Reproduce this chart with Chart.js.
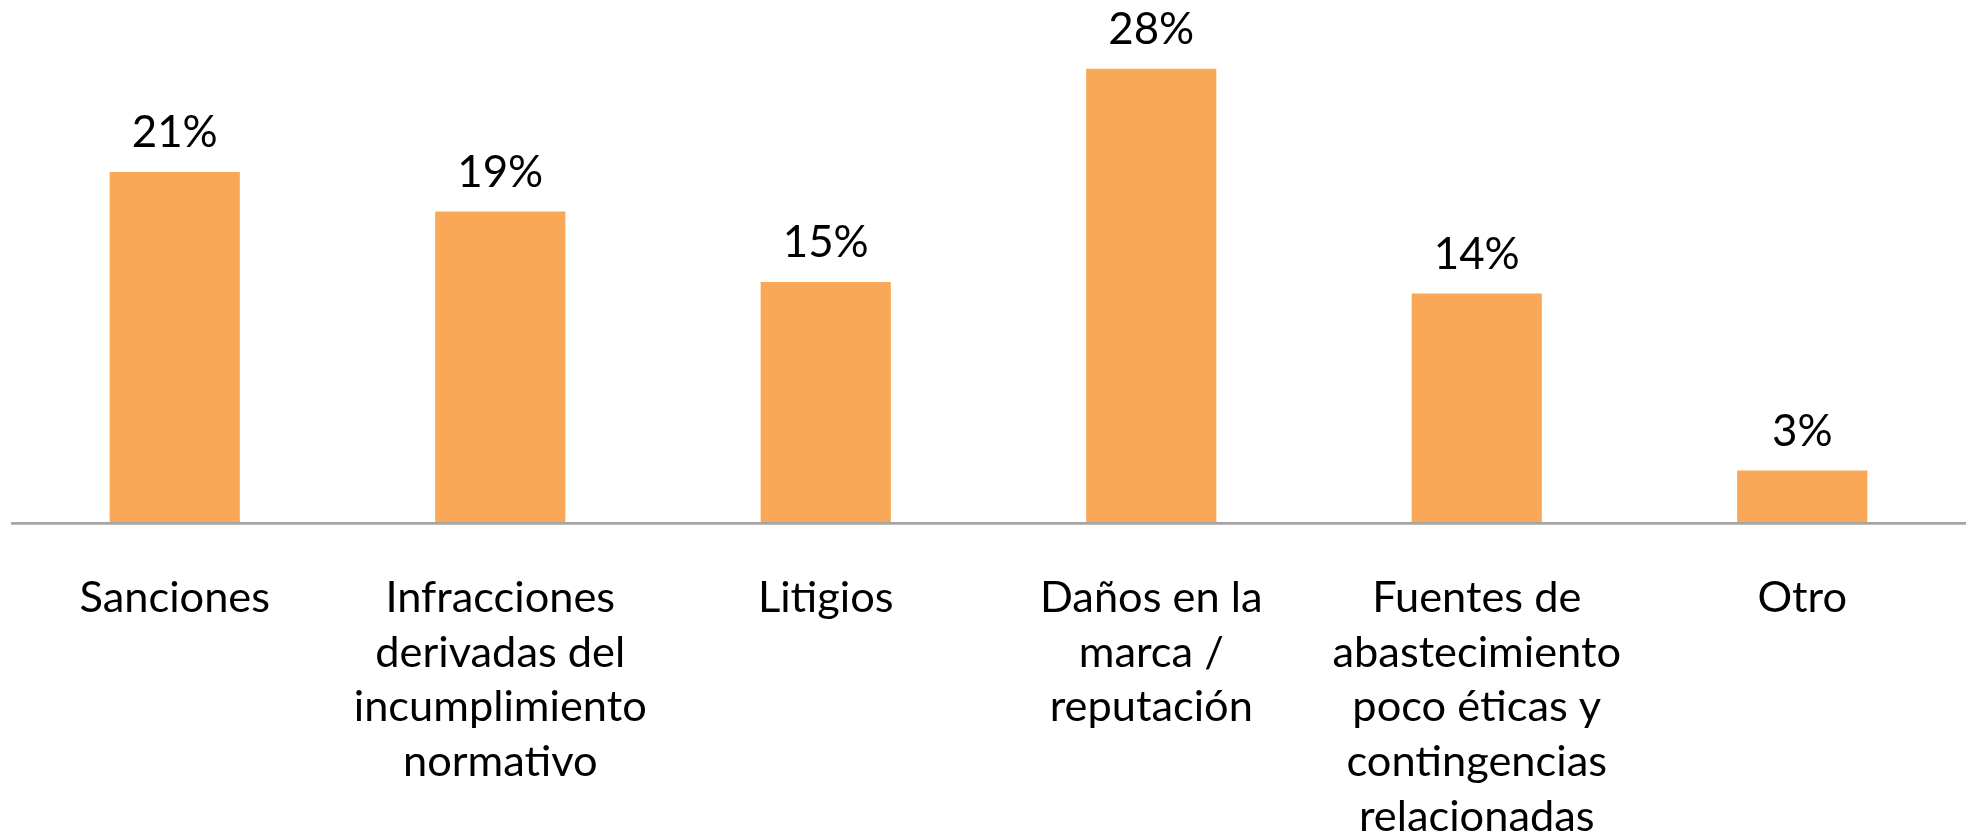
<!DOCTYPE html>
<html>
<head>
<meta charset="utf-8">
<script src="https://cdn.jsdelivr.net/npm/chart.js@4/dist/chart.umd.min.js"></script>
<style>
  html, body { margin: 0; padding: 0; background: #ffffff; }
  #wrap { width: 1970px; height: 838px; position: relative; }
</style>
</head>
<body>
<div id="wrap"><canvas id="c" width="1970" height="838"></canvas></div>
<script>
// ---- data ----
const categories = [
  ["Sanciones"],
  ["Infracciones", "derivadas del", "incumplimiento", "normativo"],
  ["Litigios"],
  ["Daños en la", "marca /", "reputación"],
  ["Fuentes de", "abastecimiento", "poco éticas y", "contingencias", "relacionadas"],
  ["Otro"]
];
const values = [21.4, 19.0, 14.7, 27.7, 14.0, 3.2];
const valueLabels = ["21%", "19%", "15%", "28%", "14%", "3%"];

const BAR_COLOR = "#F9A857";
const AXIS_COLOR = "#A5A5A5";
const FONT_FAMILY = "Lato, 'Open Sans', sans-serif";

function fitSize(text, targetWidth) {
  const ctx = document.createElement("canvas").getContext("2d");
  ctx.font = "100px " + FONT_FAMILY;
  const w = ctx.measureText(text).width;
  return 100 * targetWidth / w;
}

function build() {
  const catSize = fitSize("incumplimiento", 293);
  const valSize = fitSize("21%", 86);

  const valueLabelPlugin = {
    id: "valueLabels",
    afterDatasetsDraw(chart) {
      const ctx = chart.ctx;
      const meta = chart.getDatasetMeta(0);
      ctx.save();
      ctx.fillStyle = "#000000";
      ctx.font = valSize.toFixed(2) + "px " + FONT_FAMILY;
      ctx.textAlign = "center";
      ctx.textBaseline = "middle";
      meta.data.forEach((bar, i) => {
        ctx.fillText(valueLabels[i], bar.x, bar.y - 39);
      });
      ctx.restore();
    }
  };

  new Chart(document.getElementById("c"), {
    type: "bar",
    data: {
      labels: categories,
      datasets: [{
        data: values,
        backgroundColor: BAR_COLOR,
        borderWidth: 0,
        barPercentage: 0.4,
        categoryPercentage: 1.0
      }]
    },
    options: {
      responsive: false,
      animation: false,
      devicePixelRatio: 1,
      layout: { padding: { left: 12, right: 5, top: 31, bottom: 0 } },
      plugins: {
        legend: { display: false },
        tooltip: { enabled: false },
        title: { display: false }
      },
      scales: {
        y: {
          display: false,
          min: 0,
          max: 30
        },
        x: {
          grid: { display: false, drawTicks: false },
          border: { display: true, color: AXIS_COLOR, width: 2.7, z: 1 },
          ticks: {
            color: "#000000",
            padding: 48,
            maxRotation: 0,
            minRotation: 0,
            autoSkip: false,
            font: { family: FONT_FAMILY, size: catSize, lineHeight: 54.6 / catSize }
          },
          afterFit(scale) { scale.height = 315; }
        }
      }
    },
    plugins: [valueLabelPlugin]
  });
}

if (document.fonts && document.fonts.load) {
  document.fonts.load("40px Lato").then(build, build);
} else {
  build();
}
</script>
</body>
</html>
